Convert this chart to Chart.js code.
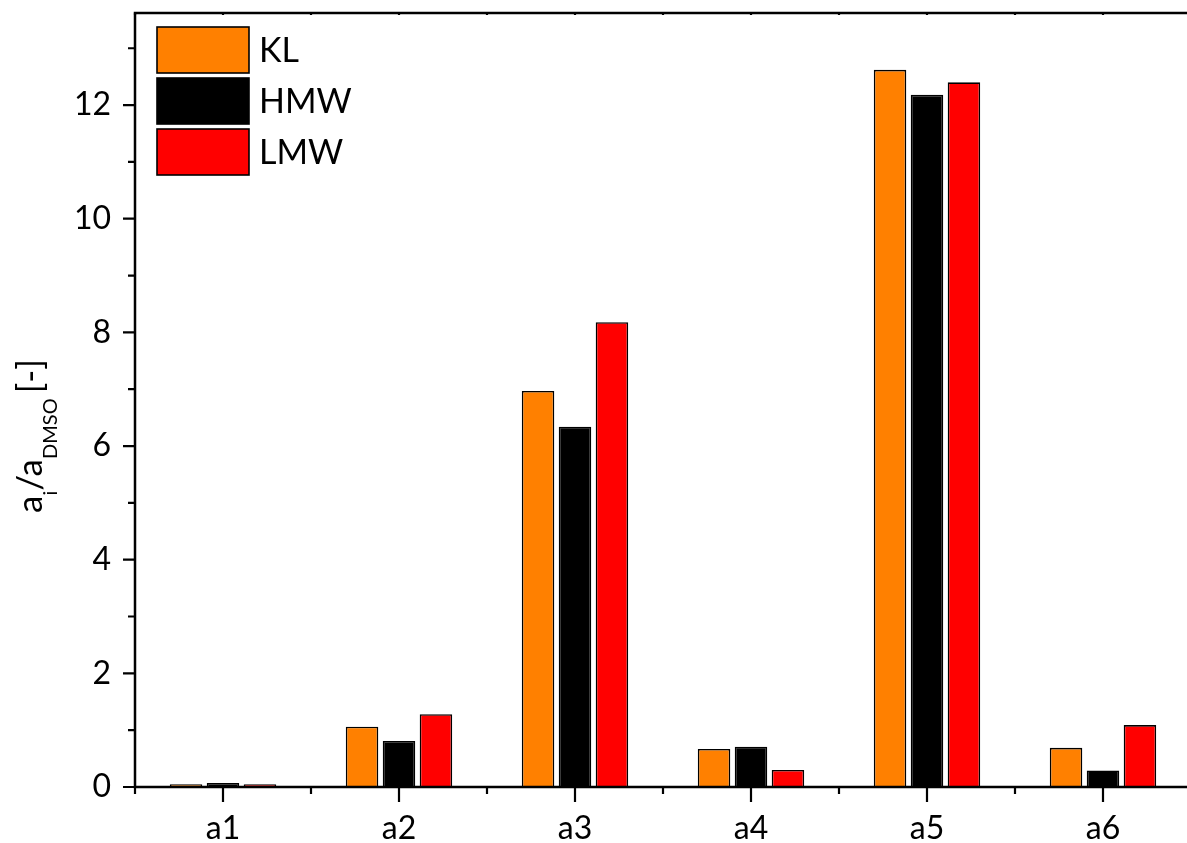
<!DOCTYPE html>
<html>
<head>
<meta charset="utf-8">
<script src="https://cdn.jsdelivr.net/npm/chart.js@4"></script>
<style>
  html, body { margin: 0; padding: 0; background: #fff; overflow: hidden; }
  #wrap { width: 1200px; height: 843px; }
</style>
</head>
<body>
<div id="wrap"><canvas id="c" width="1200" height="843"></canvas></div>
<script>
// Relative activity per sample type
const categories = ['a1', 'a2', 'a3', 'a4', 'a5', 'a6'];
const seriesNames = ['KL', 'HMW', 'LMW'];
const klValues  = [0.05, 1.06, 6.97, 0.67, 12.62, 0.69];
const hmwValues = [0.07, 0.81, 6.34, 0.71, 12.18, 0.29];
const lmwValues = [0.05, 1.28, 8.18, 0.30, 12.40, 1.09];
const yMajorTicks = [0, 2, 4, 6, 8, 10, 12];
const yMinorTicks = [1, 3, 5, 7, 9, 11, 13];
const yMin = 0;
const yMax = 13.62;

const FONT = 'Lato, "Open Sans", sans-serif';
const colors = ['#FF8000', '#000000', '#FF0000'];

// Axis frame with outward major/minor ticks
const framePlugin = {
  id: 'frame',
  afterDatasetsDraw(chart) {
    const { ctx, chartArea: { left, right, top, bottom }, scales: { x, y } } = chart;
    ctx.save();
    ctx.strokeStyle = '#000';
    ctx.lineWidth = 2.5;
    ctx.lineCap = 'butt';
    ctx.beginPath();
    ctx.moveTo(left, top); ctx.lineTo(right, top);
    ctx.moveTo(left, bottom); ctx.lineTo(right, bottom);
    ctx.moveTo(left, top - 1.25); ctx.lineTo(left, bottom + 1.25);
    ctx.moveTo(right, top - 1.25); ctx.lineTo(right, bottom + 1.25);
    ctx.stroke();

    ctx.lineWidth = 2.2;
    ctx.beginPath();
    yMajorTicks.forEach(v => {
      const py = y.getPixelForValue(v);
      ctx.moveTo(left - 12, py); ctx.lineTo(left, py);
    });
    yMinorTicks.forEach(v => {
      const py = y.getPixelForValue(v);
      ctx.moveTo(left - 7, py); ctx.lineTo(left, py);
    });
    categories.forEach((c, i) => {
      const px = x.getPixelForValue(i);
      ctx.moveTo(px, bottom); ctx.lineTo(px, bottom + 15);
      ctx.moveTo(px, top); ctx.lineTo(px, top + 2);
    });
    for (let i = 0; i <= categories.length; i++) {
      const px = x.getPixelForValue(i - 0.5);
      ctx.moveTo(px, bottom); ctx.lineTo(px, bottom + 7);
      ctx.moveTo(px, top); ctx.lineTo(px, top + 2);
    }
    ctx.stroke();
    ctx.restore();
  }
};

// Legend boxes inside the plot area
const legendPlugin = {
  id: 'boxLegend',
  afterDraw(chart) {
    const { ctx } = chart;
    ctx.save();
    chart.data.datasets.forEach((ds, i) => {
      const bx = 157, by = 27 + i * 51, bw = 92, bh = 46;
      ctx.fillStyle = ds.backgroundColor;
      ctx.fillRect(bx, by, bw, bh);
      ctx.strokeStyle = '#000';
      ctx.lineWidth = 1.6;
      ctx.strokeRect(bx, by, bw, bh);
      ctx.fillStyle = '#000';
      ctx.font = '34px ' + FONT;
      ctx.textAlign = 'left';
      ctx.textBaseline = 'middle';
      ctx.fillText(ds.label, 259, by + bh / 2 + 1);
    });
    ctx.restore();
  }
};

// Rotated y-axis title with subscripts
const yTitlePlugin = {
  id: 'yTitle',
  afterDraw(chart) {
    const { ctx } = chart;
    const big = '35px ' + FONT, small = '20px ' + FONT;
    const parts = [
      { t: 'a', f: big, dy: 0 },
      { t: 'i', f: small, dy: 15 },
      { t: '/a', f: big, dy: 0 },
      { t: 'DMSO', f: small, dy: 15, gap: 5 },
      { t: '[-]', f: big, dy: 0 }
    ];
    ctx.save();
    ctx.translate(42, 513);
    ctx.rotate(-Math.PI / 2);
    ctx.fillStyle = '#000';
    ctx.textBaseline = 'alphabetic';
    ctx.textAlign = 'left';
    let pos = 0;
    parts.forEach(p => {
      ctx.font = p.f;
      ctx.fillText(p.t, pos, p.dy);
      pos += ctx.measureText(p.t).width + (p.gap || 0);
    });
    ctx.restore();
  }
};

new Chart(document.getElementById('c'), {
  type: 'bar',
  data: {
    labels: categories,
    datasets: [
      { label: seriesNames[0], data: klValues, backgroundColor: colors[0] },
      { label: seriesNames[1], data: hmwValues, backgroundColor: colors[1] },
      { label: seriesNames[2], data: lmwValues, backgroundColor: colors[2] }
    ].map(d => Object.assign(d, {
      borderColor: '#000',
      borderWidth: 1.6,
      categoryPercentage: 0.63,
      barPercentage: 0.88
    }))
  },
  options: {
    responsive: false,
    animation: false,
    devicePixelRatio: 1,
    layout: { padding: { top: 13, right: 9, left: 0, bottom: 0 } },
    plugins: { legend: { display: false }, tooltip: { enabled: false } },
    scales: {
      x: {
        grid: { display: false, drawTicks: false },
        border: { display: false },
        ticks: { color: '#000', font: { family: FONT, size: 32 }, padding: 22, maxRotation: 0 },
        afterFit(s) {
          s.height = 56;
          s.paddingLeft = 0; s.paddingRight = 0; s.paddingTop = 0; s.paddingBottom = 0;
        }
      },
      y: {
        min: yMin,
        max: yMax,
        grid: { display: false, drawTicks: false },
        border: { display: false },
        afterBuildTicks(s) { s.ticks = yMajorTicks.map(v => ({ value: v })); },
        ticks: { color: '#000', font: { family: FONT, size: 32 }, padding: 24 },
        afterFit(s) {
          s.width = 135;
          s.paddingLeft = 0; s.paddingRight = 0; s.paddingTop = 0; s.paddingBottom = 0;
        }
      }
    }
  },
  plugins: [framePlugin, legendPlugin, yTitlePlugin]
});
</script>
</body>
</html>
